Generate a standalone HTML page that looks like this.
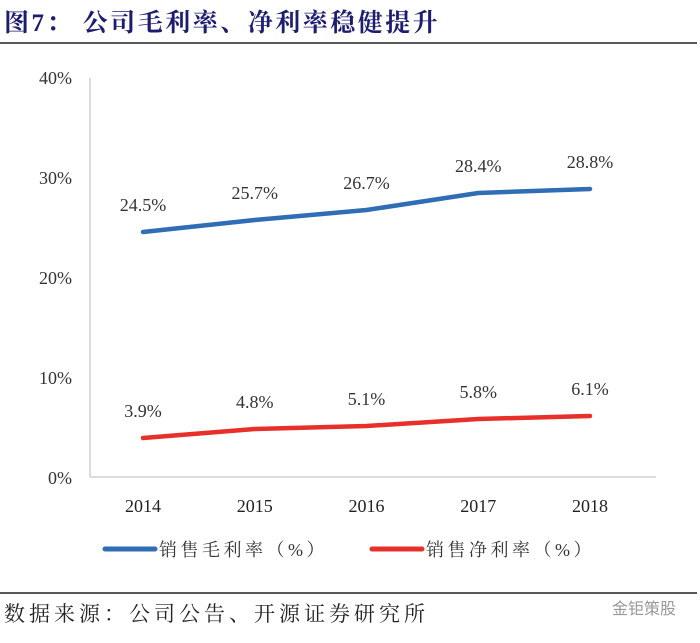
<!DOCTYPE html>
<html><head><meta charset="utf-8"><style>
body{margin:0;background:#fff;width:700px;height:638px;overflow:hidden;font-family:"Liberation Serif","Noto Serif CJK SC",serif}
</style></head><body>
<svg width="700" height="638" xmlns="http://www.w3.org/2000/svg">
<text x="4" y="31" font-size="25" font-weight="bold" letter-spacing="2.5" fill="#1c1c70" font-family="Liberation Serif,Noto Serif CJK SC,serif">图7：  公司毛利率、净利率稳健提升</text>
<line x1="0" y1="43" x2="697" y2="43" stroke="#222" stroke-width="1.5"/>
<g id="plot"></g>
<line x1="0" y1="593" x2="697" y2="593" stroke="#222" stroke-width="1.5"/>
<text x="4" y="621" font-size="21" letter-spacing="4" fill="#222">数据来源：公司公告、开源证券研究所</text>
<text x="612" y="614" font-size="16" fill="#999" font-family="Liberation Sans,Noto Sans CJK SC,sans-serif">金钜策股</text>
</svg>
<script>
const categories=["2014","2015","2016","2017","2018"];
const grossMargin=[24.5,25.7,26.7,28.4,28.8];
const netMargin=[3.9,4.8,5.1,5.8,6.1];
const yTicks=[0,10,20,30,40];
const NS="http://www.w3.org/2000/svg";
const g=document.getElementById('plot');
const x=i=>143+i*(590-143)/(categories.length-1);
const y=v=>477-v*10;
function mk(t,a){const e=document.createElementNS(NS,t);for(const k in a)e.setAttribute(k,a[k]);g.appendChild(e);return e;}
let ax=mk('line',{x1:90,y1:78,x2:90,y2:477,stroke:'#d0d0d0','stroke-width':1.5});


let bx=mk('line',{x1:90,y1:477,x2:656,y2:477,stroke:'#d0d0d0','stroke-width':1.5});


yTicks.forEach(v=>{const t=mk('text',{x:72,y:y(v)+7,'text-anchor':'end','font-size':18,fill:'#333'});t.textContent=v+'%';

});
categories.forEach((c,i)=>{const t=mk('text',{x:x(i),y:512,'text-anchor':'middle','font-size':18,fill:'#222'});t.textContent=c;

});
function series(vals,color,name){
const p=mk('polyline',{points:vals.map((v,i)=>x(i)+','+y(v)).join(' '),fill:'none',stroke:color,'stroke-width':4.5,'stroke-linejoin':'round','stroke-linecap':'round'});


vals.forEach((v,i)=>{const t=mk('text',{x:x(i),y:y(v)-21,'text-anchor':'middle','font-size':18,fill:'#333'});t.textContent=v.toFixed(1)+'%';

});
}
series(grossMargin,'#2f6db5','gross-margin');
series(netMargin,'#e8302a','net-margin');
function legend(x0,color,label,name){
const l=mk('line',{x1:x0,y1:549,x2:x0+50,y2:549,stroke:color,'stroke-width':5,'stroke-linecap':'round'});


const t=mk('text',{x:x0+54,y:556,'font-size':18,'letter-spacing':3.5,fill:'#333'});t.textContent=label;


}
legend(105,'#2f6db5','销售毛利率（%）','gross-margin');
legend(372,'#e8302a','销售净利率（%）','net-margin');
</script>
</body></html>
